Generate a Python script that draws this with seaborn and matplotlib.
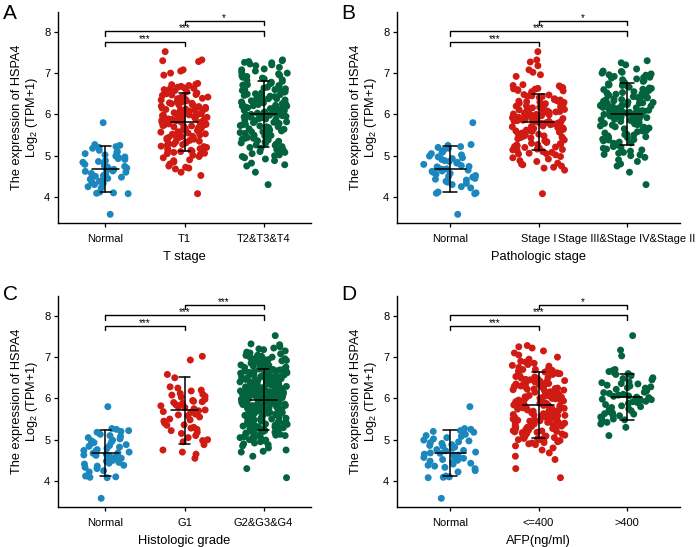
import numpy as np
import pandas as pd
import matplotlib
matplotlib.use("Agg")
import matplotlib.pyplot as plt
import seaborn as sns

# values (log2(TPM+1) of HSPA4)
normal = [4.62, 4.95, 4.41, 5.22, 4.08, 4.73, 4.55, 5.05, 4.30, 4.88,
          4.67, 5.25, 4.12, 4.79, 4.50, 4.97, 4.36, 5.80, 4.60, 4.84,
          3.58, 4.70, 5.18, 4.45, 4.91, 4.25, 4.65, 5.10, 4.10, 4.82,
          4.57, 5.02, 4.38, 4.76, 5.20, 4.48, 4.93, 4.09, 4.68, 5.27,
          4.33, 4.86, 4.63, 5.13, 4.52, 4.99, 4.22, 4.74, 4.43, 5.08]

t1 = [5.82, 6.41, 5.13, 4.72, 6.05, 5.57, 7.52, 5.94, 5.31, 6.63,
      5.76, 6.22, 4.95, 5.48, 6.70, 5.88, 5.20, 6.14, 5.66, 7.08,
      6.02, 5.39, 4.68, 5.99, 6.48, 5.71, 5.05, 6.30, 5.85, 6.58,
      5.44, 6.11, 5.92, 4.08, 5.60, 6.36, 5.27, 6.75, 5.79, 5.01,
      6.19, 5.53, 7.30, 5.83, 4.85, 6.44, 5.68, 5.96, 5.16, 6.27,
      5.74, 6.66, 5.35, 4.60, 6.08, 5.90, 5.50, 6.52, 5.23, 7.05,
      5.62, 5.98, 6.33, 4.90, 5.80, 6.17, 5.42, 6.72, 5.11, 5.87,
      6.26, 5.55, 4.75, 6.00, 5.69, 6.46, 5.32, 7.28, 5.93, 5.08,
      5.77, 6.39, 5.19, 6.62, 5.46, 6.10, 4.52, 5.84, 6.24, 5.64,
      6.55, 5.29, 5.97, 6.04, 4.98, 5.73, 6.35, 5.58, 6.95, 5.14,
      5.86, 6.13, 5.40, 6.68, 5.25, 6.01, 4.70, 5.78, 6.42, 5.52,
      6.20, 5.03, 5.91, 6.31, 5.61, 7.32, 5.37, 6.07, 5.81, 4.88,
      5.70, 6.50, 5.22, 6.15, 5.47, 6.60, 5.95, 5.10, 6.28, 5.65,
      6.03, 5.34, 6.73, 5.89, 4.80, 6.38, 5.56, 7.00, 5.75, 5.17,
      6.12, 5.43, 6.47, 5.84, 5.28, 6.64, 5.06, 6.23, 5.72, 5.99]

t234 = [6.02, 6.71, 5.25, 4.78, 6.38, 5.80, 7.25, 6.15, 5.49, 6.92,
        5.95, 6.55, 5.10, 5.66, 7.02, 6.20, 5.35, 6.44, 5.88, 7.28,
        6.28, 5.58, 4.30, 6.10, 6.80, 5.92, 5.18, 6.60, 6.05, 6.98,
        5.62, 6.33, 6.12, 4.75, 5.78, 6.66, 5.42, 7.10, 5.98, 5.05,
        6.48, 5.72, 7.30, 6.00, 4.95, 6.76, 5.85, 6.22, 5.30, 6.52,
        5.97, 6.90, 5.52, 4.60, 6.30, 6.08, 5.70, 6.84, 5.38, 7.18,
        5.82, 6.18, 6.58, 5.00, 6.03, 6.40, 5.60, 7.05, 5.22, 6.14,
        6.50, 5.75, 4.82, 6.25, 5.90, 6.72, 5.46, 7.32, 6.16, 5.15,
        5.99, 6.62, 5.33, 6.94, 5.64, 6.36, 4.88, 6.06, 6.46, 5.86,
        6.82, 5.44, 6.20, 6.27, 5.08, 5.94, 6.64, 5.76, 7.22, 5.28,
        6.09, 6.42, 5.56, 7.00, 5.40, 6.24, 4.92, 6.01, 6.70, 5.68,
        6.45, 5.12, 6.13, 6.56, 5.81, 7.26, 5.50, 6.32, 6.04, 5.02,
        5.93, 6.78, 5.36, 6.38, 5.65, 6.88, 6.17, 5.20, 6.54, 5.84,
        6.26, 5.48, 7.08, 6.11, 4.98, 6.68, 5.73, 7.20, 5.96, 5.26,
        6.35, 5.58, 6.75, 6.07, 5.42, 6.95, 5.14, 6.49, 5.89, 6.21,
        6.60, 5.31, 6.86, 5.79, 6.43, 5.54, 7.14, 6.00, 5.70, 6.28]

stage1 = [5.78, 6.38, 5.15, 4.65, 6.09, 5.55, 7.52, 5.97, 5.34, 6.60,
          5.80, 6.25, 4.98, 5.45, 6.66, 5.90, 5.22, 6.18, 5.62, 7.08,
          6.00, 5.42, 4.70, 5.95, 6.52, 5.74, 5.02, 6.27, 5.88, 6.55,
          5.47, 6.14, 5.89, 4.08, 5.63, 6.33, 5.24, 6.72, 5.82, 5.05,
          6.16, 5.50, 7.27, 5.86, 4.82, 6.47, 5.66, 5.99, 5.18, 6.30,
          5.71, 6.63, 5.38, 4.72, 6.06, 5.93, 5.52, 6.49, 5.26, 7.02,
          5.60, 6.02, 6.36, 4.92, 5.83, 6.20, 5.44, 6.70, 5.12, 5.85,
          6.23, 5.57, 4.78, 6.04, 5.67, 6.43, 5.30, 7.32, 5.96, 5.10,
          5.75, 6.41, 5.21, 6.58, 5.48, 6.12, 4.88, 5.81, 6.26, 5.61,
          6.57, 5.27, 5.94, 6.07, 4.95, 5.76, 6.32, 5.59, 7.18, 5.16,
          5.84, 6.10, 5.43, 6.65, 5.28, 6.03, 4.75, 5.79, 6.45, 5.53,
          6.22, 5.06, 5.92, 6.29, 5.64, 6.96, 5.36, 6.08, 5.83, 4.86,
          5.72, 6.48, 5.20, 6.17, 5.49, 6.62, 5.98, 5.08, 6.31, 5.68,
          6.05, 5.32, 6.69, 5.91, 4.80, 6.35, 5.58, 6.92, 5.77, 5.14,
          6.11, 5.41, 6.44, 5.87, 5.29, 6.61, 5.04, 6.21, 5.70, 6.01]

stage234 = [6.05, 6.68, 5.30, 4.80, 6.35, 5.82, 7.25, 6.12, 5.52, 6.88,
            5.97, 6.52, 5.14, 5.70, 6.98, 6.22, 5.38, 6.41, 5.90, 7.30,
            6.26, 5.60, 4.30, 6.13, 6.76, 5.94, 5.22, 6.57, 6.07, 6.95,
            5.65, 6.30, 6.15, 4.75, 5.80, 6.63, 5.45, 7.05, 6.00, 5.08,
            6.45, 5.74, 7.20, 6.02, 4.96, 6.72, 5.87, 6.24, 5.33, 6.49,
            5.99, 6.86, 5.55, 4.60, 6.28, 6.10, 5.72, 6.80, 5.40, 7.10,
            5.84, 6.20, 6.55, 5.03, 6.04, 6.38, 5.62, 7.00, 5.26, 6.16,
            6.47, 5.77, 4.86, 6.27, 5.92, 6.70, 5.48, 6.92, 6.18, 5.18,
            6.01, 6.60, 5.36, 6.90, 5.66, 6.33, 4.90, 6.08, 6.43, 5.88,
            6.78, 5.46, 6.21, 6.29, 5.11, 5.96, 6.61, 5.78, 7.02, 5.31,
            6.11, 6.40, 5.58, 6.96, 5.43, 6.25, 5.00, 6.03, 6.66, 5.69,
            6.42, 5.16, 6.14, 6.53, 5.83, 6.84, 5.51, 6.31, 6.06, 5.06,
            5.95, 6.74, 5.39, 6.36, 5.67, 6.82, 6.19, 5.24, 6.50, 5.86,
            6.23, 5.50, 7.04, 6.09, 5.02, 6.64, 5.75, 6.58, 5.98, 5.28,
            6.32, 5.61, 6.71, 6.05, 5.44, 6.89, 5.20, 6.46, 5.91, 6.17]

g1 = [5.70, 6.25, 5.05, 4.55, 5.92, 5.36, 7.02, 5.85, 5.22, 6.50,
      5.62, 6.10, 4.95, 5.30, 6.58, 5.78, 5.15, 6.03, 5.50, 6.93,
      5.95, 5.28, 4.65, 5.88, 6.20, 5.58, 4.98, 6.12, 5.75, 6.28,
      5.40, 5.98, 5.80, 4.75, 5.48, 6.05, 5.18, 5.00, 5.72, 4.70,
      6.08, 5.45, 5.90, 5.66, 4.88, 5.82, 5.55, 5.25, 5.93, 5.35,
      5.68, 5.10, 6.18, 5.60, 5.83]

g234 = [5.98, 6.62, 5.28, 4.75, 6.33, 5.79, 7.25, 6.10, 5.50, 6.85,
        5.92, 6.48, 5.12, 5.66, 6.94, 6.18, 5.36, 6.40, 5.86, 7.30,
        6.24, 5.57, 4.08, 6.06, 6.72, 5.90, 5.20, 6.54, 6.03, 6.90,
        5.62, 6.29, 6.12, 4.70, 5.76, 6.60, 5.42, 7.02, 5.96, 5.06,
        6.42, 5.71, 7.52, 5.99, 4.95, 6.68, 5.83, 6.20, 5.31, 6.46,
        5.95, 6.80, 5.52, 4.60, 6.26, 6.07, 5.68, 6.76, 5.38, 7.10,
        5.80, 6.16, 6.52, 5.02, 6.01, 6.36, 5.59, 6.96, 5.24, 6.13,
        6.44, 5.73, 4.30, 6.22, 5.88, 6.66, 5.45, 7.32, 6.14, 5.15,
        5.97, 6.57, 5.34, 6.88, 5.64, 6.31, 4.85, 6.04, 6.41, 5.84,
        6.74, 5.44, 6.19, 6.25, 5.08, 5.93, 6.58, 5.74, 7.22, 5.27,
        6.08, 6.38, 5.55, 6.98, 5.40, 6.21, 4.92, 6.00, 6.64, 5.67,
        6.43, 5.14, 6.11, 6.50, 5.81, 7.20, 5.49, 6.30, 6.02, 5.00,
        5.91, 6.70, 5.35, 6.35, 5.63, 6.82, 6.15, 5.21, 6.49, 5.82,
        6.23, 5.47, 7.05, 6.09, 4.97, 6.63, 5.72, 7.15, 5.94, 5.25,
        6.32, 5.58, 6.71, 6.05, 5.41, 6.92, 5.13, 6.45, 5.87, 6.17,
        6.56, 5.30, 6.84, 5.77, 6.39, 5.53, 7.08, 5.99, 5.69, 6.27,
        5.85, 6.47, 5.18, 4.72, 6.13, 5.60, 6.99, 6.02, 5.37, 6.75,
        6.04, 6.34, 5.05, 5.78, 6.86, 6.22, 5.43, 6.55, 5.89, 7.00,
        6.18, 5.64, 4.88, 6.10, 6.61, 5.93, 5.22, 6.44, 6.00, 6.78,
        5.70, 6.28, 6.07, 5.10, 5.82, 6.67, 5.46, 6.91, 5.96, 5.16,
        6.37, 5.75, 7.12, 6.03, 5.01, 6.59, 5.86, 6.25, 5.32, 6.51,
        5.92, 6.73, 5.56, 4.80, 6.29, 6.12, 5.65, 6.69, 5.39, 7.04,
        5.84, 6.20, 6.46, 5.07, 6.06, 6.40, 5.61, 6.87, 5.29, 6.16,
        6.53, 5.79, 4.99, 6.24, 5.91, 6.65, 5.48, 6.95, 6.11, 5.19,
        6.01, 6.42, 5.33, 6.81, 5.66, 6.33, 4.90, 6.08, 6.48, 5.88,
        6.77, 5.51, 6.14, 6.30, 5.11, 5.97, 6.57, 5.80, 7.18, 5.26]

afp_low = [5.83, 6.45, 5.08, 4.60, 6.12, 5.55, 7.28, 5.96, 5.30, 6.68,
           5.77, 6.30, 4.92, 5.45, 6.78, 5.90, 5.18, 6.20, 5.64, 7.05,
           6.04, 5.38, 4.30, 6.00, 6.58, 5.72, 4.98, 6.36, 5.87, 6.64,
           5.42, 6.16, 5.94, 4.08, 5.60, 6.40, 5.22, 6.85, 5.80, 5.00,
           6.24, 5.50, 7.25, 5.85, 4.75, 6.52, 5.68, 5.98, 5.12, 6.33,
           5.74, 6.72, 5.33, 4.52, 6.10, 5.92, 5.48, 6.60, 5.20, 7.15,
           5.62, 6.02, 6.38, 4.85, 5.82, 6.22, 5.40, 6.80, 5.05, 5.88,
           6.28, 5.52, 4.68, 6.06, 5.70, 6.50, 5.27, 7.22, 5.95, 5.02,
           5.78, 6.43, 5.15, 6.70, 5.44, 6.14, 4.90, 5.84, 6.26, 5.63,
           6.62, 5.25, 5.99, 6.08, 4.95, 5.75, 6.37, 5.57, 7.00, 5.10,
           5.86, 6.18, 5.36, 6.75, 5.23, 6.03, 4.80, 5.79, 6.48, 5.51,
           6.25, 5.00, 5.93, 6.34, 5.61, 6.90, 5.34, 6.11, 5.81, 4.88,
           5.71, 6.55, 5.17, 6.19, 5.46, 6.66, 5.97, 5.07, 6.32, 5.65,
           6.05, 5.31, 6.82, 5.89, 4.97, 6.42, 5.54, 6.95, 5.76, 5.14,
           6.13, 5.41, 6.53, 5.84, 5.28, 6.70, 5.03, 6.27, 5.73, 6.01,
           5.58, 6.35, 5.19, 6.62, 5.47, 6.09, 4.93, 5.91, 6.46, 5.66,
           6.21, 5.37, 7.10, 5.82, 5.09, 6.57, 5.59, 6.15, 5.26, 6.30,
           5.95, 5.43, 6.88, 5.69, 5.01, 6.40, 5.53, 6.07, 5.32, 6.60,
           5.78, 6.23, 5.11, 6.49, 5.62, 5.98, 5.21, 6.36, 5.88, 5.49]

afp_high = [6.03, 6.55, 5.70, 5.10, 6.25, 5.88, 7.52, 6.12, 5.62, 6.68,
            5.95, 6.38, 5.42, 5.78, 7.03, 6.18, 5.55, 6.30, 5.98, 7.17,
            6.22, 5.72, 5.30, 6.08, 6.62, 5.92, 5.50, 6.45, 6.05, 6.50,
            5.68, 6.28, 6.14, 5.38, 5.85, 6.35, 5.60, 6.70, 6.00, 5.45,
            6.40, 5.82, 6.65, 6.02, 5.58, 6.58, 5.90, 6.20, 5.65, 6.32,
            5.97, 6.48, 5.75, 5.48, 6.15, 6.10, 5.80, 6.60, 5.63, 6.26,
            5.93, 6.06, 6.36, 5.52, 6.00]

# tick labels, axis titles, mean / SD as drawn, significance marks
t_labels = ["Normal", "T1", "T2&T3&T4"]
stage_labels = ["Normal", "Stage I", "Stage III&Stage IV&Stage II"]
grade_labels = ["Normal", "G1", "G2&G3&G4"]
afp_labels = ["Normal", "<=400", ">400"]

t_means, t_sds = [4.68, 5.82, 6.00], [0.555, 0.695, 0.80]
stage_means, stage_sds = [4.68, 5.82, 6.005], [0.555, 0.685, 0.745]
grade_means, grade_sds = [4.68, 5.715, 5.965], [0.555, 0.815, 0.735]
afp_means, afp_sds = [4.68, 5.83, 6.03], [0.555, 0.80, 0.565]

pairs = [(0, 1), (0, 2), (1, 2)]
bracket_y = [7.75, 8.01, 8.27]
t_stars = ["***", "***", "*"]
stage_stars = ["***", "***", "*"]
grade_stars = ["***", "***", "***"]
afp_stars = ["***", "***", "*"]

colors = ["#1c87bc", "#cf1b13", "#04633f"]

sns.set_style("ticks", {"axes.edgecolor": "black", "xtick.color": "black",
                        "ytick.color": "black", "text.color": "black",
                        "axes.labelcolor": "black"})
plt.rcParams["font.family"] = ["Liberation Sans", "DejaVu Sans"]
plt.rcParams["mathtext.fontset"] = "custom"
plt.rcParams["mathtext.rm"] = "Liberation Sans"
plt.rcParams["mathtext.it"] = "Liberation Sans:italic"

np.random.seed(7)
W, H = 696, 547
fig = plt.figure(figsize=(W / 100, H / 100), dpi=100)


def add_axes(left, top, right, bottom):
    return fig.add_axes([left / W, 1 - bottom / H, (right - left) / W, (bottom - top) / H])


def draw_panel(ax, labels, groups, xlabel, means, sds, stars):
    df = pd.DataFrame({
        "group": np.repeat(labels, [len(g) for g in groups]),
        "value": np.concatenate(groups),
    })
    sns.stripplot(data=df, x="group", y="value", hue="group", order=labels,
                  hue_order=labels, palette=colors, jitter=0.3, size=5,
                  linewidth=0, legend=False, ax=ax, zorder=1)
    # mean +/- SD
    for i, (m, s) in enumerate(zip(means, sds)):
        ax.plot([i, i], [m - s, m + s], color="black", lw=1.1, zorder=5)
        ax.plot([i - 0.175, i + 0.175], [m, m], color="black", lw=1.1, zorder=5)
        ax.plot([i - 0.075, i + 0.075], [m - s, m - s], color="black", lw=1.1, zorder=5)
        ax.plot([i - 0.075, i + 0.075], [m + s, m + s], color="black", lw=1.1, zorder=5)
    # significance brackets
    for (a, b), y, st in zip(pairs, bracket_y, stars):
        ax.plot([a, a, b, b], [y - 0.1, y, y, y - 0.1], color="black", lw=1.0,
                zorder=5, clip_on=False)
        ax.text((a + b) / 2, y + 0.07, st, ha="center", va="center", fontsize=7)
    ax.set_xlim(-0.6, 2.6)
    ax.set_ylim(3.37, 8.48)
    ax.set_yticks([4, 5, 6, 7, 8])
    sns.despine(ax=ax)
    for sp in ["left", "bottom"]:
        ax.spines[sp].set_linewidth(1.0)
    ax.tick_params(labelsize=8, length=3, width=0.9)
    ax.tick_params(axis="x", pad=4.7)
    ax.tick_params(axis="y", pad=2.5)
    ax.set_xlabel(xlabel, fontsize=9.3, labelpad=5.5)
    ax.set_ylabel("The expression of HSPA4\nLog$_2$ (TPM+1)", fontsize=9.2,
                  labelpad=3, linespacing=1.1)


axA = add_axes(58, 12, 311, 223)
axB = add_axes(397, 12, 680, 223)
axC = add_axes(58, 296, 311, 507)
axD = add_axes(397, 296, 680, 507)

draw_panel(axA, t_labels, [normal, t1, t234], "T stage", t_means, t_sds, t_stars)
draw_panel(axB, stage_labels, [normal, stage1, stage234], "Pathologic stage",
           stage_means, stage_sds, stage_stars)
draw_panel(axC, grade_labels, [normal, g1, g234], "Histologic grade",
           grade_means, grade_sds, grade_stars)
draw_panel(axD, afp_labels, [normal, afp_low, afp_high], "AFP(ng/ml)",
           afp_means, afp_sds, afp_stars)

for letter, x, y in [("A", 3, 4), ("B", 341, 4), ("C", 3, 285), ("D", 341, 285)]:
    fig.text(x / W, 1 - y / H, letter, fontsize=15, ha="left", va="top")

fig.savefig("out.png", dpi=100)
